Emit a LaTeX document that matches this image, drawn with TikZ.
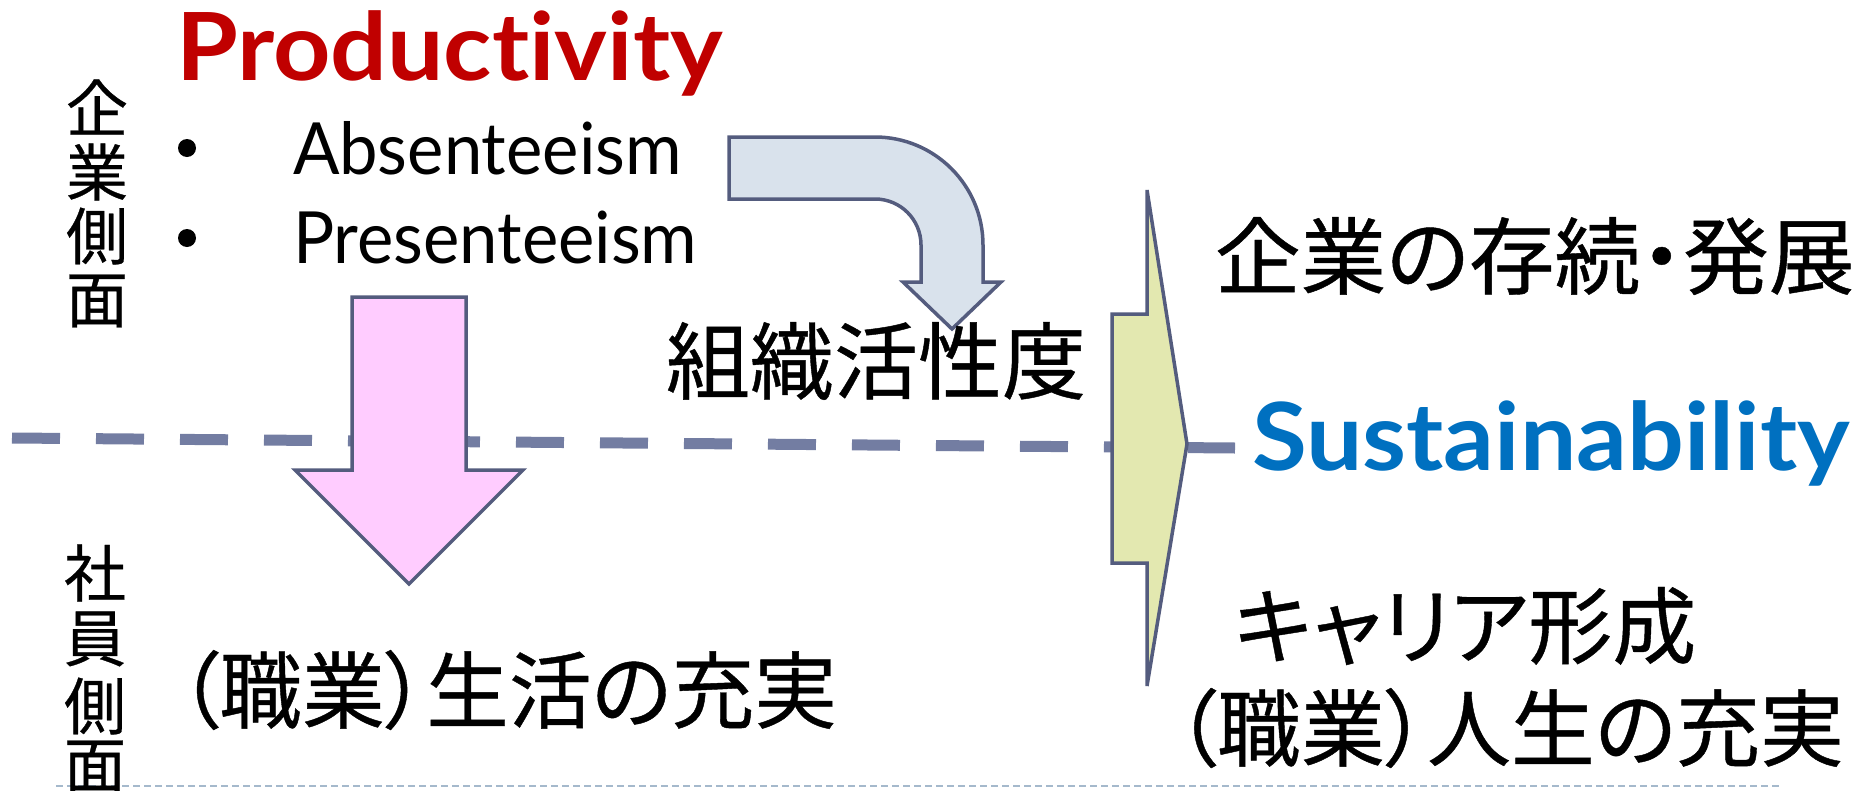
\documentclass[tikz,border=0pt]{standalone}
\usepackage{fontspec}
\setmainfont{Lato}[Ligatures=NoCommon]
\newfontfamily\cjk{Noto Sans CJK JP}[RawFeature=+palt,FakeBold=0.5]
\newfontfamily\latinb{Lato}[UprightFont=* Bold,Ligatures=NoCommon]
\definecolor{redT}{HTML}{C00000}
\definecolor{blueT}{HTML}{0070C0}
\definecolor{strokeC}{HTML}{545C7E}
\definecolor{dashC}{HTML}{737DA2}
\definecolor{pinkF}{HTML}{FFCCFF}
\definecolor{blueF}{HTML}{D9E2EC}
\definecolor{yellowF}{HTML}{E3E8B0}
\definecolor{dotC}{HTML}{A5B9CC}
\begin{document}
\begin{tikzpicture}[x=1pt,y=-1pt,
  shapeline/.style={draw=strokeC,line width=3.5pt,line join=miter},
  bigjp/.style={inner sep=0,outer sep=0,anchor=west,font=\cjk\fontsize{84}{90}\selectfont},
  vjp/.style={inner sep=0,outer sep=0,anchor=center,font=\cjk\fontsize{62}{62}\selectfont},
  latin/.style={inner sep=0,outer sep=0,anchor=base west,font=\fontsize{72}{80}\selectfont},
  title/.style={inner sep=0,outer sep=0,anchor=base west,font=\latinb\fontsize{94}{100}\selectfont}]
\useasboundingbox (0,0) rectangle (1858,790);
% horizontal dashed divider
\draw[dashC,line width=11pt,dash pattern=on 48pt off 36pt] (12,438) coordinate (dl) -- (1235,448) coordinate (dr);
% bottom dotted line
\draw[dotC,line width=2.5pt,dash pattern=on 6.5pt off 4.5pt] (56,786) coordinate (bl) -- (1782,786) coordinate (br);
% pink down arrow
\draw[shapeline,fill=pinkF] (352,297) -- (466,297) -- (466,470) -- (523,470) -- (409,584) -- (295,470) -- (352,470) -- cycle;
% blue bent arrow
\draw[shapeline,fill=blueF] (729,137) -- (875,137) arc[start angle=-90,end angle=0,radius=108] -- (983,282) -- (1001,282) -- (952,329) -- (903,282) -- (921,282) -- (921,245) arc[start angle=0,end angle=-90,radius=46] -- (729,199) -- cycle;
% yellow arrow
\draw[shapeline,fill=yellowF] (1147,190) -- (1187,444) -- (1147,686) -- (1147,563) -- (1112,563) -- (1112,314) -- (1147,314) -- cycle;
% titles
\node[title,text=redT] (prod) at (176,80) {\scalebox{1.065}[1]{Productivity}};
\node[title,text=blueT] (sus) at (1252,470) {\scalebox{1.065}[1]{Sustainability}};
% bullets
\fill (187,148) circle[radius=9];
\fill (187,238) circle[radius=9];
\node[latin] (abs) at (293,174) {\scalebox{0.955}[1]{Absenteeism}};
\node[latin] (pre) at (293,263) {\scalebox{0.955}[1]{Presenteeism}};
% vertical labels
\node[vjp] (v1) at (97,107) {企};
\node[vjp] (v2) at (97,172) {業};
\node[vjp] (v3) at (97,236) {側};
\node[vjp] (v4) at (97,301) {面};
\node[vjp] (w1) at (95,573) {社};
\node[vjp] (w2) at (95,639) {員};
\node[vjp] (w3) at (95,706) {側};
\node[vjp] (w4) at (95,767) {面};
% Japanese texts
\node[bigjp] (soshiki) at (666,361) {組織活性度};
\node[bigjp] (kigyo) at (1215,256) {\scalebox{1.02}[1]{企業の存続・発展}};
\node[bigjp] (career) at (1234,626) {キャリア形成};
\node[bigjp] (jinsei) at (1175,728) {（職業）人生の充実};
\node[bigjp] (seikatsu) at (178,690) {\scalebox{0.985}[1]{（職業）生活の充実}};
\end{tikzpicture}
\end{document}
